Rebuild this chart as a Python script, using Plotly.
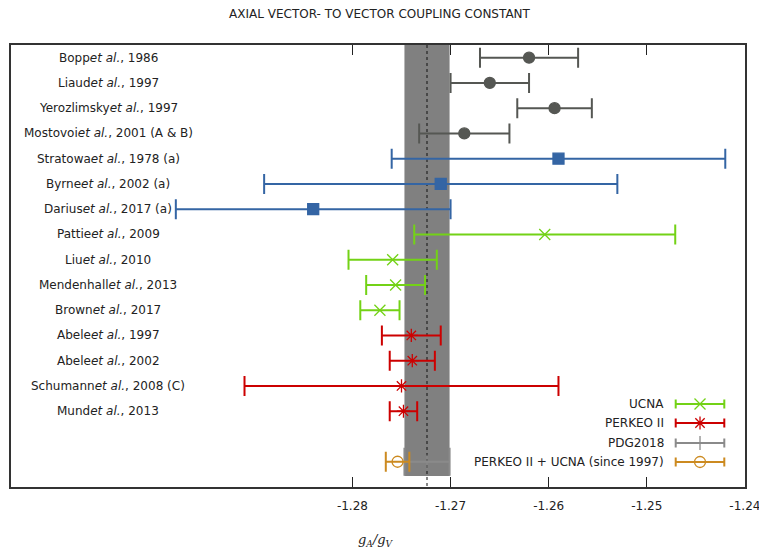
import plotly.graph_objects as go

# g_A/g_V determinations, grouped by experiment family
gray_labels = ["Bopp<i>et al.</i>, 1986", "Liaud<i>et al.</i>, 1997",
               "Yerozlimsky<i>et al.</i>, 1997", "Mostovoi<i>et al.</i>, 2001 (A &amp; B)"]
gray_values = [-1.2620, -1.2660, -1.2594, -1.2686]
gray_errors = [0.0050, 0.0040, 0.0038, 0.0046]

blue_labels = ["Stratowa<i>et al.</i>, 1978 (a)", "Byrne<i>et al.</i>, 2002 (a)",
               "Darius<i>et al.</i>, 2017 (a)"]
blue_values = [-1.2590, -1.2710, -1.2840]
blue_errors = [0.0170, 0.0180, 0.0140]

ucna_labels = ["Pattie<i>et al.</i>, 2009", "Liu<i>et al.</i>, 2010",
               "Mendenhall<i>et al.</i>, 2013", "Brown<i>et al.</i>, 2017"]
ucna_values = [-1.2604, -1.2759, -1.2756, -1.2772]
ucna_errors = [0.0133, 0.0045, 0.0030, 0.0020]

perkeo_labels = ["Abele<i>et al.</i>, 1997", "Abele<i>et al.</i>, 2002",
                 "Schumann<i>et al.</i>, 2008 (C)", "Mund<i>et al.</i>, 2013"]
perkeo_values = [-1.2740, -1.2739, -1.2750, -1.2748]
perkeo_errors = [0.0030, 0.0023, 0.0160, 0.0014]

pdg_value = -1.2724
pdg_error = 0.0023

combined_value = -1.2754
combined_error = 0.0012

x_ticks = [-1.28, -1.27, -1.26, -1.25, -1.24]

legend_names = ["UCNA", "PERKEO II", "PDG2018", "PERKEO II + UCNA (since 1997)"]

GRAY = "#555753"
BLUE = "#3465a4"
GREEN = "#73d216"
RED = "#cc0000"
ORANGE = "#cc8a20"
BAND = "#808080"
PDG = "#8a8a8a"
FONT = "DejaVu Sans"
TEXT = "#222222"

fig = go.Figure()

groups = [
    (gray_labels, gray_values, gray_errors, GRAY, "circle", 11),
    (blue_labels, blue_values, blue_errors, BLUE, "square", 11),
    (ucna_labels, ucna_values, ucna_errors, GREEN, "x-thin-open", 11),
    (perkeo_labels, perkeo_values, perkeo_errors, RED, "asterisk-open", 11),
]

row = 0
annotations = []
for labels, values, errors, color, symbol, size in groups:
    rows = list(range(row, row + len(values)))
    row += len(values)
    fig.add_trace(go.Scatter(
        x=values, y=rows, mode="markers", showlegend=False,
        marker=dict(symbol=symbol, size=size, color=color,
                    line=dict(color=color, width=1.3)),
        error_x=dict(type="data", array=errors, color=color,
                     thickness=2, width=10),
    ))
    for lab, r in zip(labels, rows):
        annotations.append(dict(
            text=lab, x=0.1322, xref="paper", y=r, yref="y",
            xanchor="center", yanchor="middle", showarrow=False,
            font=dict(family=FONT, size=12, color=TEXT)))

combined_row = row + 1

# PDG2018 average and combined result
fig.add_trace(go.Scatter(
    x=[pdg_value], y=[combined_row], mode="markers", showlegend=False,
    marker=dict(symbol="line-ns", size=10, color=PDG, line=dict(color=PDG, width=1)),
    error_x=dict(type="data", array=[pdg_error], color=PDG, thickness=2, width=14),
))
fig.add_trace(go.Scatter(
    x=[combined_value], y=[combined_row], mode="markers", showlegend=False,
    marker=dict(symbol="circle-open", size=11, color=ORANGE,
                line=dict(color=ORANGE, width=1.3)),
    error_x=dict(type="data", array=[combined_error], color=ORANGE,
                 thickness=2, width=10),
))

# legend samples drawn on an overlay axis in normalized units
leg_x0, leg_x1 = 0.9056, 0.9718
leg_xc = (leg_x0 + leg_x1) / 2
leg_rows = [0.1878, 0.1448, 0.0995, 0.0566]
leg_styles = [
    (GREEN, "x-thin-open", 11),
    (RED, "asterisk-open", 11),
    (PDG, "line-ns", 10),
    (ORANGE, "circle-open", 11),
]
for name, ly, (color, symbol, size) in zip(legend_names, leg_rows, leg_styles):
    fig.add_trace(go.Scatter(
        x=[leg_xc], y=[ly], xaxis="x2", yaxis="y2", mode="markers",
        showlegend=False, hoverinfo="skip",
        marker=dict(symbol=symbol, size=size, color=color,
                    line=dict(color=color, width=1.3)),
        error_x=dict(type="data", array=[leg_x1 - leg_xc], color=color,
                     thickness=2, width=4.5),
    ))
    annotations.append(dict(
        text=name, x=0.8924, xref="paper", y=ly, yref="paper",
        xanchor="right", yanchor="middle", showarrow=False,
        font=dict(family=FONT, size=12, color=TEXT)))

annotations.append(dict(
    text="<i>g<sub>A</sub>/g<sub>V</sub></i>", x=0.497, xref="paper",
    y=-0.12, yref="paper", xanchor="center", yanchor="middle",
    showarrow=False, font=dict(family="DejaVu Serif", size=13, color=TEXT)))

shapes = [
    dict(type="rect", xref="x", yref="y", x0=pdg_value - pdg_error,
         x1=pdg_value + pdg_error, y0=-0.5, y1=combined_row + 0.56,
         fillcolor=BAND, line=dict(width=0), layer="below"),
    dict(type="line", xref="x", yref="y", x0=pdg_value, x1=pdg_value,
         y0=-0.5, y1=combined_row + 1, line=dict(color="#111111", width=1, dash="dot"),
         layer="below"),
]

fig.update_layout(
    width=759, height=552,
    margin=dict(l=11, r=14, t=45, b=65),
    paper_bgcolor="white", plot_bgcolor="white",
    title=dict(text="AXIAL VECTOR- TO VECTOR COUPLING CONSTANT",
               x=0.5, xanchor="center", y=0.975, yanchor="middle",
               font=dict(family="DejaVu Sans", size=12, color=TEXT)),
    xaxis=dict(range=[-1.3148, -1.23999], tickvals=x_ticks,
               ticktext=[f"{v:.2f}" for v in x_ticks],
               ticks="inside", ticklen=10, tickcolor=TEXT, tickwidth=1,
               showline=True, linecolor="#333333", linewidth=1.5, mirror="ticks",
               showgrid=False, zeroline=False, ticklabelstandoff=7,
               ticklabeloverflow="allow", automargin=False,
               tickfont=dict(family=FONT, size=12, color=TEXT)),
    yaxis=dict(range=[combined_row + 1, -0.5], showticklabels=False, ticks="",
               showline=True, linecolor="#333333", linewidth=1.5, mirror=True,
               showgrid=False, zeroline=False, automargin=False),
    xaxis2=dict(overlaying="x", range=[0, 1], visible=False),
    yaxis2=dict(overlaying="y", range=[0, 1], visible=False),
    annotations=annotations,
    shapes=shapes,
    showlegend=False,
)

fig.write_html("out.html")
